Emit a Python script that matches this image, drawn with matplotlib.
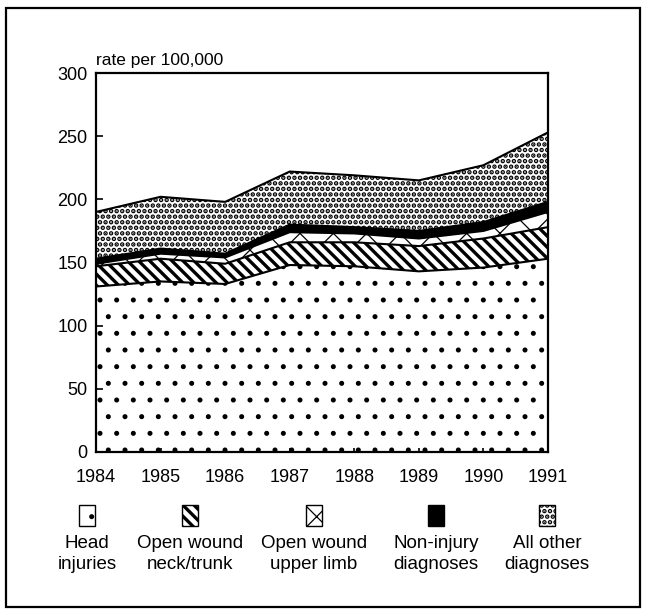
import numpy as np
import matplotlib
matplotlib.use("Agg")
import matplotlib.pyplot as plt
from matplotlib.patches import Rectangle

plt.rcParams['font.family'] = ['Liberation Sans', 'DejaVu Sans']
plt.rcParams['font.size'] = 13

years = [1984, 1985, 1986, 1987, 1988, 1989, 1990, 1991]
# rates per 100,000, stacked bottom to top
head = [131, 135, 133, 148, 147, 143, 146, 153]
neck_trunk = [16, 18, 16, 18, 19, 20, 23, 25]
upper_limb = [2, 4, 5, 8, 7, 6, 6, 12]
non_injury = [4, 4, 3, 6, 5, 6, 7, 8]
all_other = [37, 41, 41, 42, 41, 40, 45, 55]

labels = ["Head\ninjuries", "Open wound\nneck/trunk", "Open wound\nupper limb",
          "Non-injury\ndiagnoses", "All other\ndiagnoses"]
series = [head, neck_trunk, upper_limb, non_injury, all_other]
# (hatch, hatch linewidth, face)
styles = [(".", 1.2, "white"), ("\\\\\\", 2.4, "white"), ("x", 0.9, "white"),
          ("", 1.0, "black"), ("...", 2.3, "white")]

fig = plt.figure(figsize=(6.46, 6.16), dpi=100)
ax = fig.add_axes([96 / 646, 1 - 452 / 616, 452 / 646, 379 / 616])

x = np.array(years)
base = np.zeros(len(years))
for vals, (h, hlw, fc) in zip(series, styles):
    top = base + np.array(vals)
    with plt.rc_context({'hatch.linewidth': hlw}):
        poly = ax.fill_between(x, base, top, facecolor=fc, edgecolor="black",
                               hatch=h, linewidth=0)
        if hasattr(poly, "set_hatch_linewidth"):
            poly.set_hatch_linewidth(hlw)
    ax.plot(x, top, color="black", lw=1.5)
    base = top

ax.set_xlim(1984, 1991)
ax.set_ylim(0, 300)
ax.set_yticks([0, 50, 100, 150, 200, 250, 300])
ax.set_xticks(years)
ax.tick_params(direction="in", length=5, width=1.2, pad=6)
ax.tick_params(axis="x", length=3, pad=12)
for sp in ax.spines.values():
    sp.set_linewidth(1.6)
ax.text(0, 1.012, "rate per 100,000", transform=ax.transAxes, ha="left",
        va="bottom", fontsize=12.5)

# legend: swatch above each label
centers = [87, 190, 314, 436, 547]
H = 616
for cx, lab, (h, hlw, fc) in zip(centers, labels, styles):
    with plt.rc_context({'hatch.linewidth': hlw}):
        r = Rectangle(((cx - 8) / 646, 1 - 526 / H), 16 / 646, 21 / H,
                      transform=fig.transFigure, facecolor=fc, edgecolor="black",
                      hatch=h, linewidth=1.0)
        if hasattr(r, "set_hatch_linewidth"):
            r.set_hatch_linewidth(hlw)
        fig.patches.append(r)
    fig.text(cx / 646, 1 - 554 / H, lab, ha="center", va="center",
             fontsize=13.5, linespacing=1.35)

# outer frame
fig.patches.append(Rectangle((6 / 646, 1 - 607 / H), 634 / 646, 599 / H,
                             transform=fig.transFigure, fill=False,
                             edgecolor="black", linewidth=1.6))

fig.savefig("out.png", dpi=100)
